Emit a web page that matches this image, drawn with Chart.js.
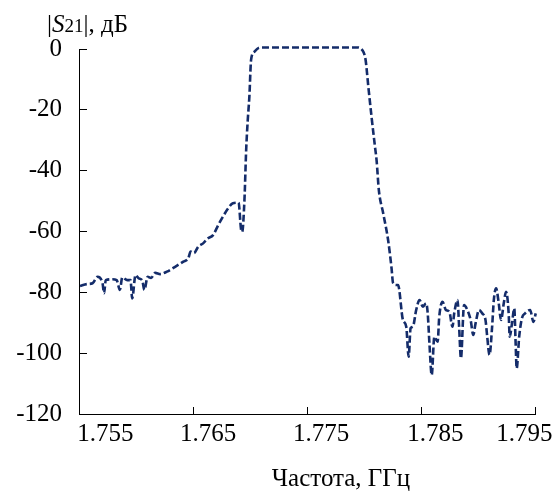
<!DOCTYPE html>
<html>
<head>
<meta charset="utf-8">
<script src="https://cdn.jsdelivr.net/npm/chart.js@4/dist/chart.umd.min.js"></script>
<style>
  body { margin: 0; background: #fff; }
  canvas { display: block; }
</style>
</head>
<body>
<canvas id="s21" width="558" height="491"></canvas>
<script>
// frequency, GHz
const freq = [
  1.75509, 1.75569, 1.75619, 1.75662, 1.75706, 1.75720, 1.75734, 1.75792, 1.75830, 1.75858,
  1.75879, 1.75923, 1.75951, 1.75966, 1.75995, 1.76023, 1.76053, 1.76073, 1.76101, 1.76131,
  1.76168, 1.76211, 1.76270, 1.76342, 1.76414, 1.76457, 1.76478, 1.76507, 1.76544, 1.76587,
  1.76628, 1.76674, 1.76715, 1.76761, 1.76802, 1.76848, 1.76897, 1.76920, 1.76929, 1.76949,
  1.76964, 1.76978, 1.76992, 1.77007, 1.77036, 1.77071, 1.77108, 1.77253, 1.77426, 1.77600,
  1.77773, 1.77903, 1.77947, 1.77973, 1.77990, 1.78010, 1.78034, 1.78062, 1.78092, 1.78106,
  1.78126, 1.78164, 1.78207, 1.78236, 1.78251, 1.78279, 1.78294, 1.78337, 1.78366, 1.78387,
  1.78404, 1.78424, 1.78453, 1.78482, 1.78511, 1.78540, 1.78554, 1.78569, 1.78589, 1.78612,
  1.78641, 1.78655, 1.78684, 1.78713, 1.78743, 1.78771, 1.78786, 1.78815, 1.78829, 1.78845,
  1.78872, 1.78901, 1.78930, 1.78953, 1.78973, 1.79003, 1.79031, 1.79060, 1.79075, 1.79095,
  1.79118, 1.79133, 1.79153, 1.79176, 1.79196, 1.79220, 1.79240, 1.79263, 1.79272, 1.79292,
  1.79312, 1.79324, 1.79333, 1.79355, 1.79379, 1.79407, 1.79451, 1.79480, 1.79500
];
// |S21|, dB
const s21 = [
  -77.9, -77.3, -77.0, -74.9, -77.0, -80.3, -76.0, -75.7, -76.0, -79.2,
  -75.1, -76.0, -76.0, -82.0, -74.3, -75.4, -76.0, -79.2, -74.9, -75.3,
  -73.6, -74.0, -73.2, -71.6, -69.9, -68.8, -66.6, -67.1, -65.0, -63.9,
  -62.3, -61.2, -58.2, -55.1, -52.6, -50.7, -50.5, -59.5, -60.1, -49.6,
  -33.2, -23.3, -15.7, -3.6, -0.9, 0.3, 0.5, 0.5, 0.5, 0.5,
  0.5, 0.5, 0.5, 0.0, -0.9, -3.6, -12.4, -22.3, -32.1, -36.5,
  -46.4, -54.0, -62.8, -71.6, -77.0, -77.6, -77.6, -89.1, -91.3, -101.2,
  -91.8, -91.3, -85.8, -82.5, -84.7, -83.6, -86.9, -96.8, -107.2, -94.6,
  -96.2, -88.0, -83.1, -85.8, -86.4, -91.3, -86.9, -82.5, -91.3, -101.7,
  -84.2, -85.8, -89.1, -94.0, -90.2, -85.8, -86.9, -89.1, -94.6, -100.6,
  -91.3, -82.5, -78.7, -83.6, -89.1, -83.6, -79.8, -86.9, -94.6, -90.2,
  -85.3, -96.8, -105.0, -94.6, -88.5, -86.9, -85.8, -89.7, -86.9
];
const xTicks = [1.755, 1.765, 1.775, 1.785, 1.795];
const xTickLabels = ['1.755', '1.765', '1.775', '1.785', '1.795'];
const yTicks = [-120, -100, -80, -60, -40, -20, 0];

// label shift (GHz) so the tick texts sit like in the original figure
const labelShift = [0.0023, 0.0013, 0.0012, 0.0012, -0.0010];

const serif = 'Liberation Serif';
const lineColor = '#142c6a';

Chart.defaults.font.family = serif;

const axisTitles = {
  id: 'axisTitles',
  afterDraw(chart) {
    const ctx = chart.ctx;
    ctx.save();
    ctx.fillStyle = '#000';
    ctx.textBaseline = 'alphabetic';
    // y title: |S21|, дБ
    let x = 47, y = 32;
    const parts = [
      ['|', '25px "Liberation Serif"'],
      ['S', 'italic 25px "Liberation Serif"'],
      ['21', '19px "Liberation Serif"'],
      ['|, дБ', '25px "Liberation Serif"']
    ];
    ctx.textAlign = 'left';
    parts.forEach(function(p) {
      ctx.font = p[1];
      ctx.fillText(p[0], x, y);
      x += ctx.measureText(p[0]).width;
    });
    // x title
    ctx.font = '25px "Liberation Serif"';
    ctx.textAlign = 'center';
    ctx.fillText('Частота, ГГц', 341, 486);
    ctx.restore();
  }
};

new Chart(document.getElementById('s21'), {
  type: 'line',
  data: {
    datasets: [{
      data: freq.map(function(f, i) { return {x: f, y: s21[i]}; }),
      borderColor: lineColor,
      borderWidth: 2.6,
      borderDash: [7, 3],
      pointRadius: 0,
      fill: false,
      cubicInterpolationMode: 'monotone',
      clip: 10
    }]
  },
  options: {
    responsive: false,
    devicePixelRatio: 1,
    animation: false,
    layout: { padding: { top: 49, right: 19, bottom: 0, left: 0 } },
    plugins: { legend: { display: false }, tooltip: { enabled: false } },
    scales: {
      x: {
        type: 'linear',
        position: 'bottom',
        weight: 0,
        min: 1.755,
        max: 1.795,
        afterBuildTicks: function(scale) {
          scale.ticks = xTicks.map(function(v) { return {value: v}; });
        },
        afterFit: function(scale) { scale.height = 0; },
        grid: { drawOnChartArea: false, drawTicks: true, tickLength: -7, color: '#000', lineWidth: 1 },
        border: { display: true, color: '#000', width: 1 },
        ticks: { display: false }
      },
      xl: {
        type: 'linear',
        position: 'bottom',
        weight: 1,
        min: 1.755,
        max: 1.795,
        afterBuildTicks: function(scale) {
          scale.ticks = xTicks.map(function(v, i) { return {value: v + labelShift[i]}; });
        },
        afterFit: function(scale) { scale.height = 77; },
        grid: { display: false, drawTicks: false },
        border: { display: false },
        ticks: {
          autoSkip: false,
          maxRotation: 0,
          padding: 5,
          color: '#000',
          font: { family: serif, size: 25 },
          callback: function(v, i) { return xTickLabels[i]; }
        }
      },
      y: {
        min: -120,
        max: 0,
        afterBuildTicks: function(scale) {
          scale.ticks = yTicks.map(function(v) { return {value: v}; });
        },
        afterFit: function(scale) { scale.width = 79; },
        grid: { drawOnChartArea: false, drawTicks: true, tickLength: -8, color: '#000', lineWidth: 1 },
        border: { display: true, color: '#000', width: 1 },
        ticks: {
          padding: 25,
          color: '#000',
          font: { family: serif, size: 25 },
          callback: function(v) { return String(v); }
        }
      }
    }
  },
  plugins: [axisTitles]
});
</script>
</body>
</html>
